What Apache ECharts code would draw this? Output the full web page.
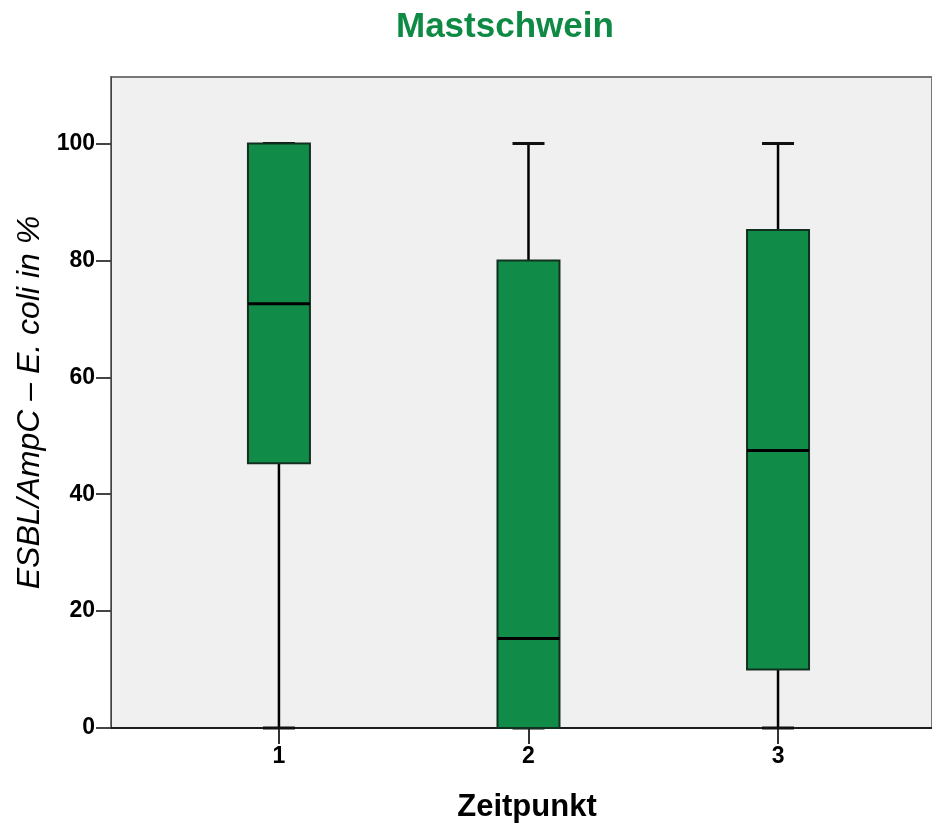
<!DOCTYPE html>
<html>
<head>
<meta charset="utf-8">
<script src="https://cdn.jsdelivr.net/npm/echarts@6/dist/echarts.min.js"></script>
<style>html,body{margin:0;padding:0;background:#fff;}#c{width:932px;height:828px;}</style>
</head>
<body>
<div id="c"></div>
<script>
const categories = [1, 2, 3];
const mins    = [0, 0, 0];
const q1s     = [45.3, 0, 10];
const medians = [72.6, 15.3, 47.5];
const q3s     = [100, 80, 85.2];
const maxs    = [100, 100, 100];
const yTicks  = [0, 20, 40, 60, 80, 100];

const rows = categories.map((c, i) => [c, mins[i], q1s[i], medians[i], q3s[i], maxs[i]]);

const chart = echarts.init(document.getElementById('c'), null, {renderer: 'canvas'});
chart.setOption({
  animation: false,
  title: {
    text: 'Mastschwein',
    left: 391, top: 5,
    textStyle: {color: '#0f8a45', fontSize: 35, fontWeight: 'bold', fontFamily: 'Liberation Sans, Arial'}
  },
  grid: {
    left: 111, top: 77, right: -3, bottom: 97,
    show: true, backgroundColor: '#f0f0f0', borderColor: '#777', borderWidth: 2
  },
  xAxis: {
    type: 'value', min: 0.327, max: 3.617,
    splitLine: {show: false},
    axisLine: {show: true, onZero: false, lineStyle: {color: '#000', width: 1.5}},
    axisTick: {show: true, length: 16, customValues: categories, lineStyle: {color: '#333', width: 2}},
    axisLabel: {customValues: categories, color: '#000', fontSize: 23, fontWeight: 'bold', margin: 17, fontFamily: 'Liberation Sans, Arial'},
    name: 'Zeitpunkt', nameLocation: 'middle', nameGap: 64,
    nameTextStyle: {color: '#000', fontSize: 31, fontWeight: 'bold', fontFamily: 'Liberation Sans, Arial', padding: [0, 0, 0, 11]}
  },
  yAxis: {
    type: 'value', min: 0, max: 111.4,
    splitLine: {show: false},
    axisLine: {show: true, lineStyle: {color: '#444', width: 1}},
    axisTick: {show: true, length: 15, customValues: yTicks, lineStyle: {color: '#444', width: 2}},
    axisLabel: {customValues: yTicks, color: '#000', fontSize: 23, fontWeight: 'bold', margin: 16, fontFamily: 'Liberation Sans, Arial'},
    name: 'ESBL/AmpC – E. coli in %', nameLocation: 'middle', nameGap: 55,
    nameTextStyle: {color: '#000', fontSize: 32, fontStyle: 'italic', fontFamily: 'Liberation Sans, Arial'}
  },
  series: [{
    type: 'custom',
    data: rows,
    encode: {x: 0, y: [1, 2, 3, 4, 5]},
    clip: false,
    renderItem: function (params, api) {
      const x = api.value(0);
      const pMin = api.coord([x, api.value(1)]);
      const pQ1 = api.coord([x, api.value(2)]);
      const pMed = api.coord([x, api.value(3)]);
      const pQ3 = api.coord([x, api.value(4)]);
      const pMax = api.coord([x, api.value(5)]);
      const cx = pMin[0];
      const hw = 31, cw = 16;
      const lineStyle = {stroke: '#000', lineWidth: 2.5};
      return {
        type: 'group',
        children: [
          {type: 'line', shape: {x1: cx, y1: pMin[1], x2: cx, y2: pQ1[1]}, style: lineStyle},
          {type: 'line', shape: {x1: cx, y1: pQ3[1], x2: cx, y2: pMax[1]}, style: lineStyle},
          {type: 'line', shape: {x1: cx - cw, y1: pMin[1], x2: cx + cw, y2: pMin[1]}, style: {stroke: '#111', lineWidth: 3}},
          {type: 'line', shape: {x1: cx - cw, y1: pMax[1], x2: cx + cw, y2: pMax[1]}, style: {stroke: '#111', lineWidth: 3}},
          {type: 'rect', shape: {x: cx - hw, y: pQ3[1], width: hw * 2, height: pQ1[1] - pQ3[1]},
            style: {fill: '#118c48', stroke: '#12301f', lineWidth: 2}},
          {type: 'line', shape: {x1: cx - hw, y1: pMed[1], x2: cx + hw, y2: pMed[1]}, style: {stroke: '#000', lineWidth: 3}}
        ]
      };
    }
  }]
});
</script>
</body>
</html>
